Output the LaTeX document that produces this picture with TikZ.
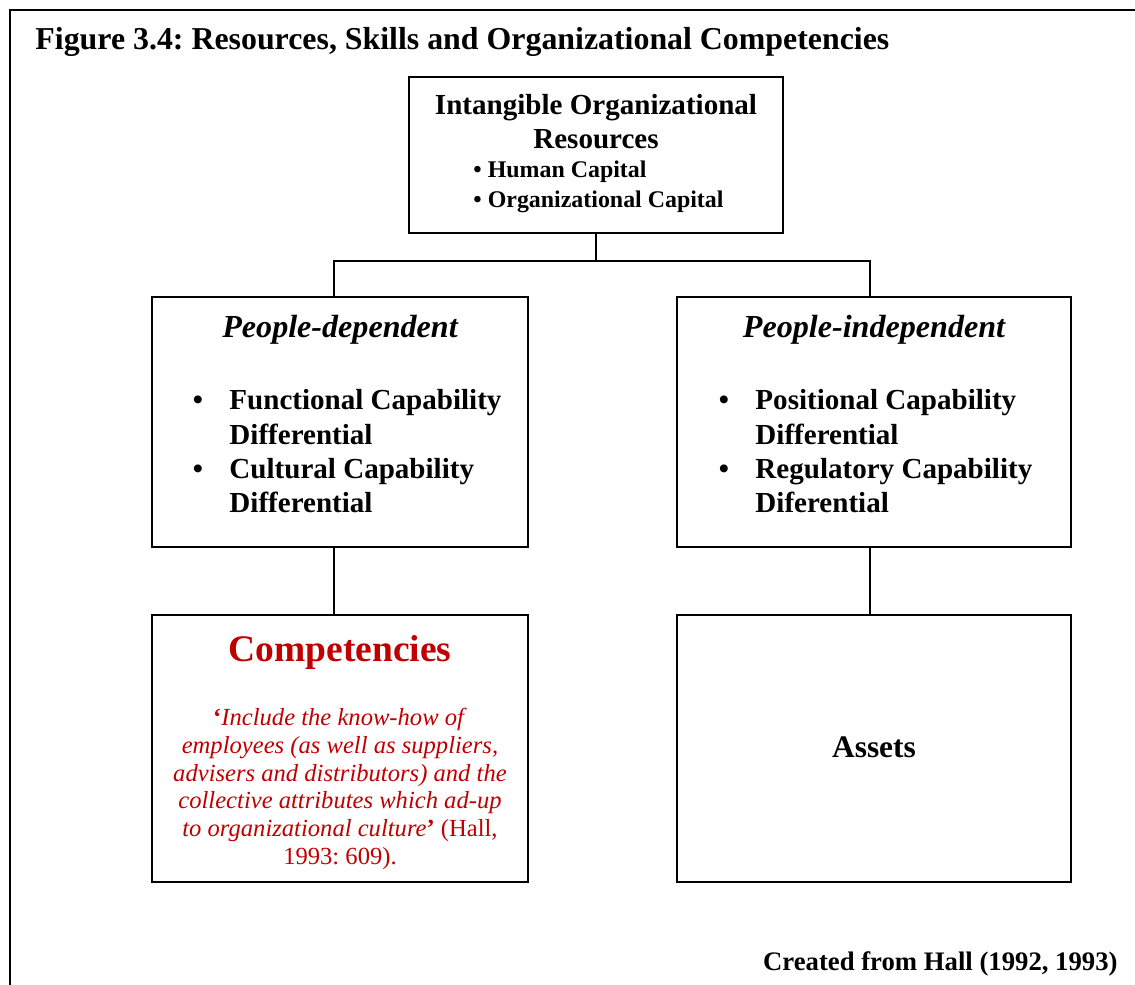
\documentclass[tikz,border=0pt]{standalone}
\usepackage{fontspec}
\setmainfont{Liberation Serif}
\definecolor{compred}{RGB}{192,0,0}
\frenchspacing

\begin{document}
\begin{tikzpicture}[x=0.015cm,y=-0.015cm,
  box/.style={draw,line width=0.8pt,inner sep=0pt},
  link/.style={line width=0.8pt},
  txt/.style={inner sep=0pt,font=\fontsize{12.4}{14.5}\selectfont\bfseries},
  head/.style={inner sep=0pt,font=\fontsize{13.7}{16}\selectfont\bfseries\itshape},
  small/.style={inner sep=0pt,font=\fontsize{10.2}{12}\selectfont\bfseries}]
\useasboundingbox (0,0) rectangle (1135,985);

\draw[line width=1.2pt] (10,985)--(10,10)--(1135,10);

\node[inner sep=0pt,anchor=base west,font=\fontsize{13.6}{16}\selectfont\bfseries] (title) at (35,50) {Figure 3.4: Resources, Skills and Organizational Competencies};

\node[box,minimum width=5.61cm,minimum height=2.34cm] (ior) at (596,155) {};
\node[box,minimum width=5.64cm,minimum height=3.75cm] (pd) at (340,422) {};
\node[box,minimum width=5.91cm,minimum height=3.75cm] (pi) at (874,422) {};
\node[box,minimum width=5.64cm,minimum height=4.005cm] (comp) at (340,748.5) {};
\node[box,minimum width=5.91cm,minimum height=4.005cm] (assets) at (874,748.5) {};

\node[txt,anchor=base] (iorA) at (596,115) {Intangible Organizational};
\node[txt,anchor=base] (iorB) at (596,149) {Resources};
\node[small,anchor=base west] (hc) at (473,178) {• Human Capital};
\node[small,anchor=base west] (oc) at (473,208) {• Organizational Capital};

\node[head,anchor=base] (pdT) at (340,337) {People-dependent};
\node[head,anchor=base] (piT) at (874,337) {People-independent};

\foreach \yy/\first [count=\i] in {410/Functional Capability,478/Cultural Capability}{
  \node[txt,anchor=base] (pdDot\i) at (198,\yy) {•};
  \node[txt,anchor=base west] (pdItem\i) at (229,\yy) {\first};
  \node[txt,anchor=base west] (pdDiff\i) at (229,\yy+34) {Differential};
}
\foreach \yy/\first/\second [count=\i] in {410/Positional Capability/Differential,478/Regulatory Capability/Diferential}{
  \node[txt,anchor=base] (piDot\i) at (724,\yy) {•};
  \node[txt,anchor=base west] (piItem\i) at (755,\yy) {\first};
  \node[txt,anchor=base west] (piDiff\i) at (755,\yy+34) {\second};
}

\node[inner sep=0pt,anchor=base,text=compred,font=\fontsize{16}{19}\selectfont\bfseries] (compT) at (340,661) {Competencies};
\node[inner sep=0pt,align=center,text=compred,font=\fontsize{10.5}{11.8}\selectfont] (quote) at (340,789)
  {\textbf{‘}\textit{Include the know-how of}\\
   \textit{employees (as well as suppliers,}\\
   \textit{advisers and distributors) and the}\\
   \textit{collective attributes which ad-up}\\
   \textit{to organizational culture}\textbf{’} (Hall,\\
   1993: 609).};

\node[inner sep=0pt,anchor=base,font=\fontsize{13.4}{16}\selectfont\bfseries] (assetsT) at (874,757) {Assets};

\node[inner sep=0pt,anchor=base east,font=\fontsize{11.4}{14}\selectfont\bfseries] (src) at (1118,970) {Created from Hall (1992, 1993)};

\coordinate (split) at (596,261);
\draw[link] (ior.south) -- (split);
\draw[link] ([xshift=-0.09cm]pd.north) |- (split) -| ([xshift=-0.06cm]pi.north);
\draw[link] ([xshift=-0.09cm]pd.south) -- ([xshift=-0.09cm]comp.north);
\draw[link] ([xshift=-0.06cm]pi.south) -- ([xshift=-0.06cm]assets.north);

\end{tikzpicture}
\end{document}
